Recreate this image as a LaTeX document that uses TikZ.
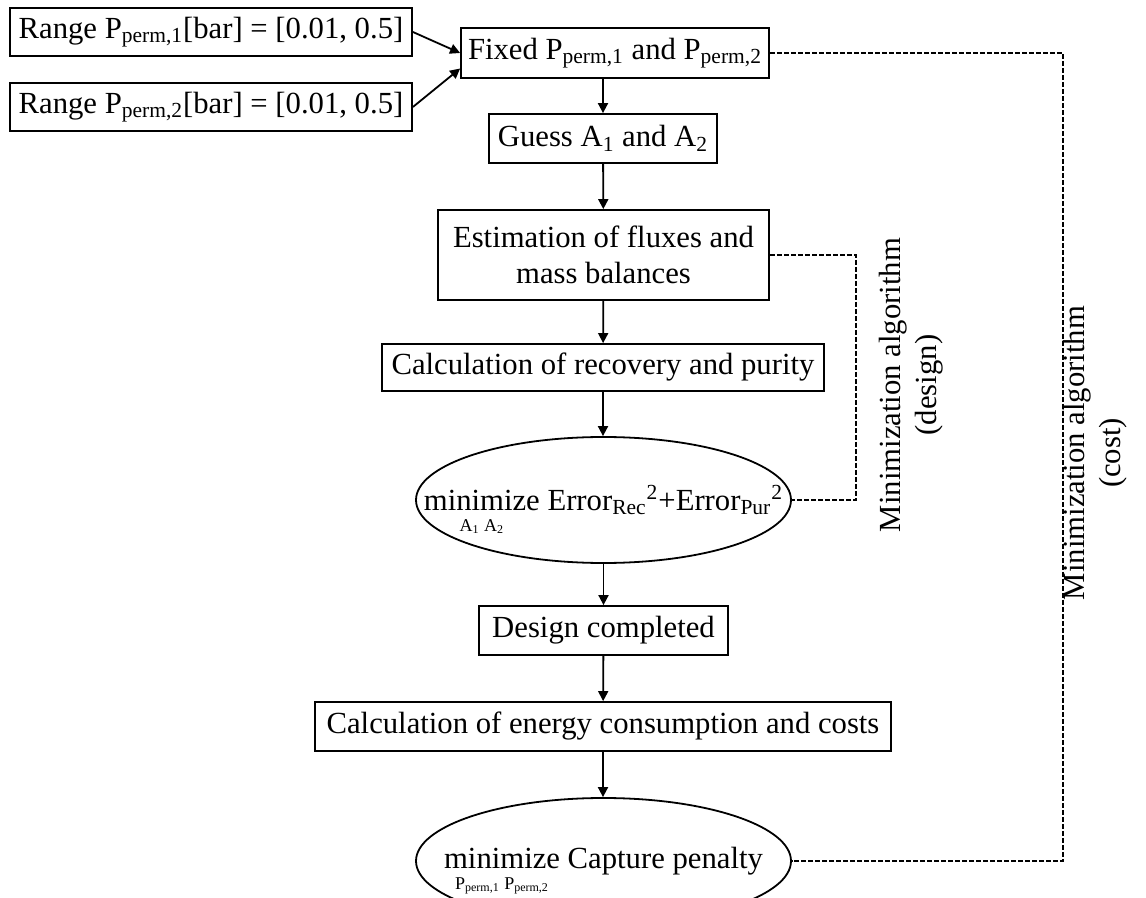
\documentclass[tikz,border=0pt]{standalone}
\usepackage{fontspec}
\setmainfont{Liberation Serif}
\usetikzlibrary{arrows.meta,shapes.geometric,calc}
\newcommand{\minunder}[2]{\smash{\begin{tabular}[t]{@{}c@{}}#1\\[-7.5pt]{\fontsize{9}{10}\selectfont #2}\end{tabular}}}
\begin{document}
\begin{tikzpicture}[x=0.5pt,y=-0.5pt,
  every node/.style={font=\fontsize{15.35}{18}\selectfont, inner sep=0pt},
  box/.style={draw, line width=0.9pt, align=center},
  oval/.style={draw, line width=0.9pt, ellipse, minimum width=187.5pt, minimum height=63pt},
  arr/.style={line width=0.9pt, -{Triangle[length=5pt,width=5pt]}},
  dline/.style={line width=0.9pt, dash pattern=on 2.5pt off 1pt}]
\useasboundingbox (0,0) rectangle (1146,898);
\node[box, minimum width=201pt, minimum height=24pt] (r1) at (211,32) {Range P\textsubscript{perm,1}[bar] = [0.01, 0.5]};
\node[box, minimum width=201pt, minimum height=24pt] (r2) at (211,107) {Range P\textsubscript{perm,2}[bar] = [0.01, 0.5]};
\node[box, minimum width=154pt, minimum height=25pt] (fix) at (615,53) {Fixed P\textsubscript{perm,1} and P\textsubscript{perm,2}};
\node[box, minimum width=114pt, minimum height=24.5pt] (guess) at (603,138.5) {Guess A\textsubscript{1} and A\textsubscript{2}};
\node[box, minimum width=165.5pt, minimum height=45pt] (est) at (603.5,255) {Estimation of fluxes and\\mass balances};
\node[box, minimum width=221pt, minimum height=23.5pt] (rec) at (603,367.5) {Calculation of recovery and purity};
\node[oval] (e1) at (603.5,500) {\makebox[0pt][c]{\minunder{minimize}{A\textsubscript{1} A\textsubscript{2}} Error\textsubscript{Rec}\textsuperscript{2}+Error\textsubscript{Pur}\textsuperscript{2}}};
\node[box, minimum width=124.5pt, minimum height=24.5pt] (des) at (603.5,630.5) {Design completed};
\node[box, minimum width=288pt, minimum height=24.5pt] (en) at (603,726.5) {Calculation of energy consumption and costs};
\node[oval] (e2) at (603.5,861) {\makebox[0pt][c]{\minunder{minimize}{P\textsubscript{perm,1} P\textsubscript{perm,2}} Capture penalty}};
\coordinate (c1) at (856,255);
\coordinate (c2) at (1063,53);
\node[rotate=90, align=center] (lab1) at (911,385) {Minimization algorithm\\(design)};
\node[rotate=90, align=center] (lab2) at (1095,453) {Minimization algorithm\\(cost)};
\draw[arr] (r1.east) -- (fix.west);
\draw[arr] (r2.east) -- ($(fix.south west)!0.2!(fix.north west)$);
\draw[arr] (guess.north |- fix.south) -- (guess.north);
\draw[arr] (guess) -- (est);
\draw[arr] (est) -- (rec);
\draw[arr] (rec.south) -- (rec.south |- e1.north);
\draw[arr] (e1.south) -- (e1.south |- des.north);
\draw[arr] (des) -- (en);
\draw[arr] (en.south) -- (en.south |- e2.north);
\draw[dline] (est.east) -- (c1) |- (e1.east);
\draw[dline] (fix.east) -- (c2) |- (e2.east);
\end{tikzpicture}
\end{document}
